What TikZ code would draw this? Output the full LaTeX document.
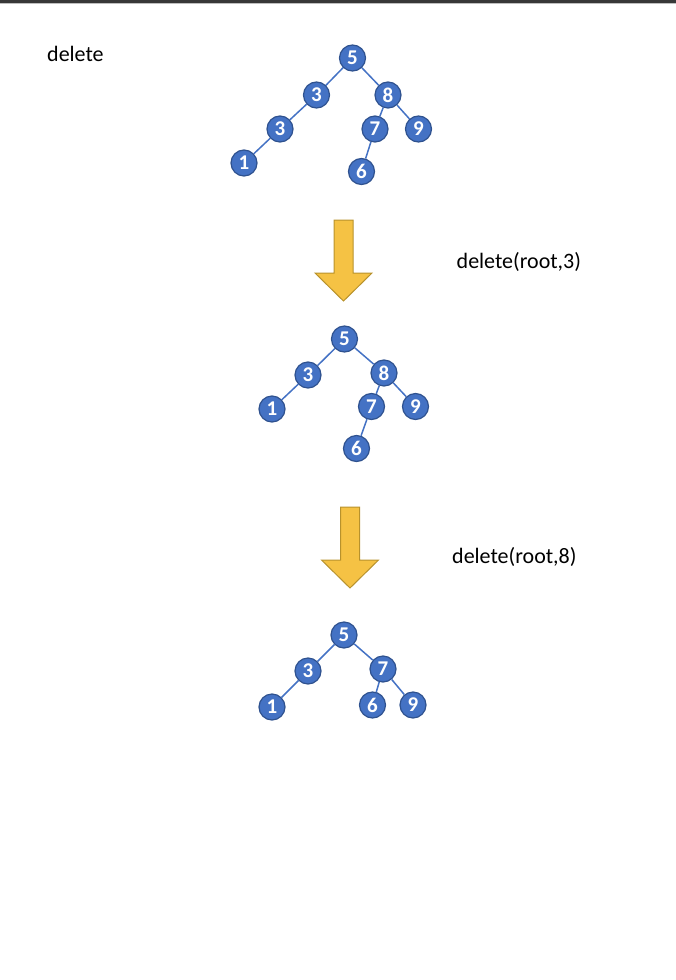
\documentclass[tikz,border=0pt]{standalone}
\usepackage{fontspec}
\setmainfont{Carlito}
\usepackage{xcolor}
\usepackage{tikz}
\usetikzlibrary{positioning}

\definecolor{nodeblue}{HTML}{4472C4}
\definecolor{nodeedge}{HTML}{2F528F}
\definecolor{arrowfill}{HTML}{F5C244}
\definecolor{arrowedge}{HTML}{B8922C}

\begin{document}
\begin{tikzpicture}[x=1pt,y=-1pt,
    bnode/.style={circle,fill=nodeblue,draw=nodeedge,line width=1.2pt,
      minimum size=26pt,inner sep=0pt,text=white,
      font=\fontsize{21}{21}\selectfont\bfseries},
    link/.style={draw=nodeblue,line width=1.5pt},
    lbl/.style={anchor=base west,inner sep=0pt,font=\fontsize{22}{26}\selectfont}]
  \useasboundingbox (0,0) rectangle (676,980);
  \fill[black!78] (0,0) rectangle (676,2.5);
  \fill[black!25] (0,2.5) rectangle (676,3.5);

  % first tree
  \node[bnode] (a5) at (352.5,58) {5};
  \node[bnode] (a3) at (316.5,95) {3};
  \node[bnode] (a8) at (388,95) {8};
  \node[bnode] (a3b) at (280,129) {3};
  \node[bnode] (a7) at (375,129) {7};
  \node[bnode] (a9) at (418.5,129) {9};
  \node[bnode] (a1) at (244,163) {1};
  \node[bnode] (a6) at (361.5,171.5) {6};
  \draw[link] (a5) -- (a3);
  \draw[link] (a5) -- (a8);
  \draw[link] (a3) -- (a3b);
  \draw[link] (a3b) -- (a1);
  \draw[link] (a8) -- (a7);
  \draw[link] (a8) -- (a9);
  \draw[link] (a7) -- (a6);

  % second tree
  \node[bnode] (b5) at (344.5,339) {5};
  \node[bnode] (b3) at (308,375) {3};
  \node[bnode] (b8) at (384,373) {8};
  \node[bnode] (b1) at (272,409) {1};
  \node[bnode] (b7) at (371.5,406.5) {7};
  \node[bnode] (b9) at (415.5,406.5) {9};
  \node[bnode] (b6) at (356.5,448.5) {6};
  \draw[link] (b5) -- (b3);
  \draw[link] (b5) -- (b8);
  \draw[link] (b3) -- (b1);
  \draw[link] (b8) -- (b7);
  \draw[link] (b8) -- (b9);
  \draw[link] (b7) -- (b6);

  % third tree
  \node[bnode] (c5) at (344,635) {5};
  \node[bnode] (c3) at (308,671) {3};
  \node[bnode] (c7) at (383,669) {7};
  \node[bnode] (c1) at (272,707) {1};
  \node[bnode] (c6) at (372.5,705) {6};
  \node[bnode] (c9) at (413,705) {9};
  \draw[link] (c5) -- (c3);
  \draw[link] (c5) -- (c7);
  \draw[link] (c3) -- (c1);
  \draw[link] (c7) -- (c6);
  \draw[link] (c7) -- (c9);

  % down arrows
  \foreach \cx/\top in {343.5/220, 350/507}{
    \draw[fill=arrowfill,draw=arrowedge,line width=1pt,line join=miter]
      (\cx-9.5,\top) -- (\cx+9.5,\top) -- (\cx+9.5,\top+53)
      -- (\cx+28.5,\top+53) -- (\cx,\top+81) -- (\cx-28.5,\top+53)
      -- (\cx-9.5,\top+53) -- cycle;
  }

  \node[lbl] (t0) at (47,61) {delete};
  \node[lbl] (t1) at (456.5,268) {delete(root,3)};
  \node[lbl] (t2) at (452,563.5) {delete(root,8)};
\end{tikzpicture}
\end{document}
